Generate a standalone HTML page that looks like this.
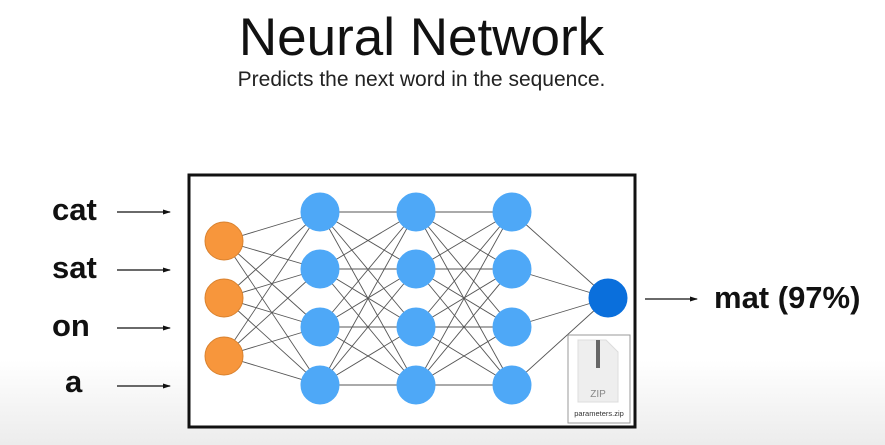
<!DOCTYPE html>
<html><head><style>
body{margin:0;width:885px;height:445px;overflow:hidden;background:linear-gradient(#fff 0,#fff 360px,#ececec 445px);font-family:"Liberation Sans",sans-serif;position:relative}
.t{position:absolute;left:0;width:843px;text-align:center}
.l{position:absolute;font-weight:bold;font-size:31px;color:#111}
</style></head><body>
<div class="t" style="top:7px;font-size:53px;color:#111">Neural Network</div>
<div class="t" style="top:68px;font-size:21px;color:#222">Predicts the next word in the sequence.</div>
<div class="l" style="left:52px;top:192px">cat</div>
<div class="l" style="left:52px;top:250px">sat</div>
<div class="l" style="left:52px;top:308px">on</div>
<div class="l" style="left:65px;top:364px">a</div>
<div class="l" style="left:714px;top:280px">mat (97%)</div>
<svg width="885" height="445" style="position:absolute;left:0;top:0">
<defs><marker id="a" markerWidth="8" markerHeight="8" refX="7" refY="4" orient="auto" markerUnits="userSpaceOnUse"><path d="M0,1.5 L8,4 L0,6.5z" fill="#111"/></marker></defs>
<g stroke="#111" stroke-width="1.3" marker-end="url(#a)">
<line x1="117" y1="212" x2="170" y2="212"/><line x1="117" y1="270" x2="170" y2="270"/>
<line x1="117" y1="328" x2="170" y2="328"/><line x1="117" y1="386" x2="170" y2="386"/>
<line x1="645" y1="299" x2="697" y2="299"/>
</g>
<rect x="189" y="175" width="446" height="252" fill="#fff" stroke="#111" stroke-width="3"/>
<g stroke="#555" stroke-width="0.9" id="e"></g>
<rect x="568" y="335" width="62" height="88" fill="#fff" stroke="#999"/>
<path d="M578,340 h28 l12,12 v50 h-40z" fill="#eee" stroke="#ddd"/>
<rect x="596" y="340" width="4" height="28" fill="#666"/>
<text x="598" y="397" font-size="10" fill="#888" text-anchor="middle" font-family="Liberation Sans">ZIP</text>
<text x="599" y="416" font-size="7.5" fill="#333" text-anchor="middle" font-family="Liberation Sans">parameters.zip</text>
<g id="n"></g>
</svg>
<script>
var L=[[224,[241,298,356]],[320,[212,269,327,385]],[416,[212,269,327,385]],[512,[212,269,327,385]],[608,[298]]];
var e=document.getElementById('e'),n=document.getElementById('n'),s="";
for(var i=0;i<4;i++)for(var a of L[i][1])for(var b of L[i+1][1])s+='<line x1="'+L[i][0]+'" y1="'+a+'" x2="'+L[i+1][0]+'" y2="'+b+'"/>';
e.innerHTML=s;s="";
L.forEach(function(l,i){l[1].forEach(function(y){var c=i==0?'#f7963c':i==4?'#0a6fdc':'#4ea8f7';s+='<circle cx="'+l[0]+'" cy="'+y+'" r="19" fill="'+c+'" stroke="'+(i==0?'#d9822f':c)+'"/>';});});
n.innerHTML=s;
</script>
</body></html>
